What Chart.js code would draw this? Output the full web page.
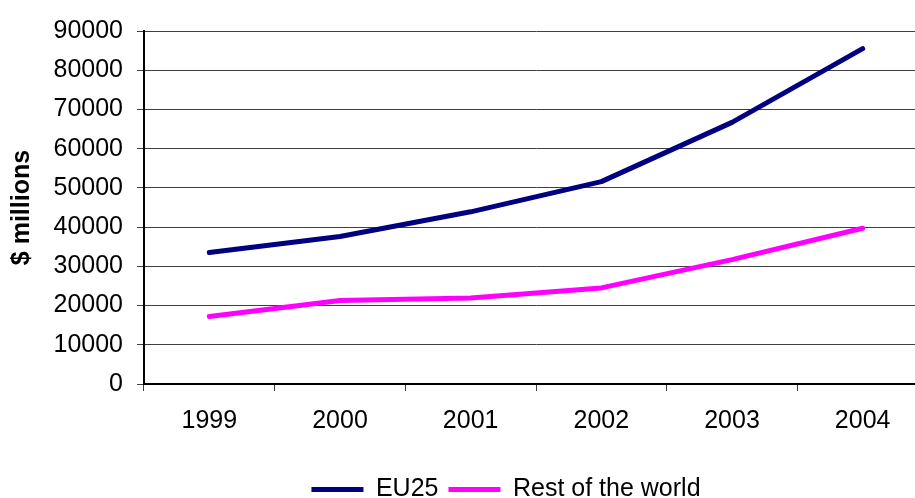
<!DOCTYPE html>
<html>
<head>
<meta charset="utf-8">
<script src="https://cdn.jsdelivr.net/npm/chart.js@4.4.0/dist/chart.umd.min.js"></script>
<style>
  body { margin: 0; overflow: hidden; background: #fff; }
  #wrap { position: relative; width: 930px; height: 498px; }
</style>
</head>
<body>
<div id="wrap"><canvas id="myChart"></canvas></div>
<script>
// data
const years = ['1999', '2000', '2001', '2002', '2003', '2004'];
const eu25 = [33500, 37600, 43900, 51600, 66700, 85500];
const restOfWorld = [17200, 21300, 21900, 24500, 31700, 39700];
const yTicks = [0, 10000, 20000, 30000, 40000, 50000, 60000, 70000, 80000, 90000];

// legend sits a bit left of the plot centre in the original
const legendShift = {
    id: 'legendShift',
    afterLayout(chart) {
        chart.legend.left -= 60;
    }
};

function chart () {
    const ctx = document.getElementById('myChart').getContext('2d');
    Chart.defaults.font.family = '"Liberation Sans", Arial, sans-serif';
    Chart.defaults.font.size = 25;
    Chart.defaults.color = '#000';

    const myChart = new Chart(ctx, {
        type: 'line',
        data: {
            labels: years,
            datasets: [{
                label: 'EU25',
                data: eu25,
                borderColor: '#000080',
                backgroundColor: '#000080',
                borderWidth: 5,
                borderCapStyle: 'round',
                borderJoinStyle: 'round',
                pointRadius: 0,
                tension: 0
            }, {
                label: 'Rest of the world',
                data: restOfWorld,
                borderColor: '#ff00ff',
                backgroundColor: '#ff00ff',
                borderWidth: 5,
                borderCapStyle: 'round',
                borderJoinStyle: 'round',
                pointRadius: 0,
                tension: 0
            }]
        },
        options: {
            responsive: true,
            maintainAspectRatio: false,
            animation: false,
            layout: {
                padding: { top: 31, right: 2, left: 0, bottom: -14 }
            },
            plugins: {
                tooltip: { enabled: false },
                legend: {
                    position: 'bottom',
                    fullSize: false,
                    labels: {
                        usePointStyle: true,
                        pointStyle: 'line',
                        pointStyleWidth: 52,
                        padding: 10
                    }
                }
            },
            scales: {
                x: {
                    offset: true,
                    grid: {
                        offset: true,
                        drawOnChartArea: false,
                        tickLength: 7,
                        color: '#404040'
                    },
                    border: { color: '#000', width: 2 },
                    ticks: { padding: 15, maxRotation: 0 },
                    afterFit: function (scale) { scale.height = 83; }
                },
                y: {
                    min: 0,
                    max: 90000,
                    afterBuildTicks: function (scale) {
                        scale.ticks = yTicks.map(v => ({ value: v }));
                    },
                    grid: { color: '#404040', tickLength: 7 },
                    border: { color: '#000', width: 2 },
                    ticks: { padding: 14, callback: v => String(v) },
                    title: {
                        display: true,
                        text: '$ millions',
                        font: { size: 25, weight: 'bold' },
                        padding: { top: 7, bottom: 0 }
                    },
                    afterFit: function (scale) { scale.width = 144; }
                }
            }
        },
        plugins: [legendShift]
    });
}

window.onload = chart;
</script>
</body>
</html>
